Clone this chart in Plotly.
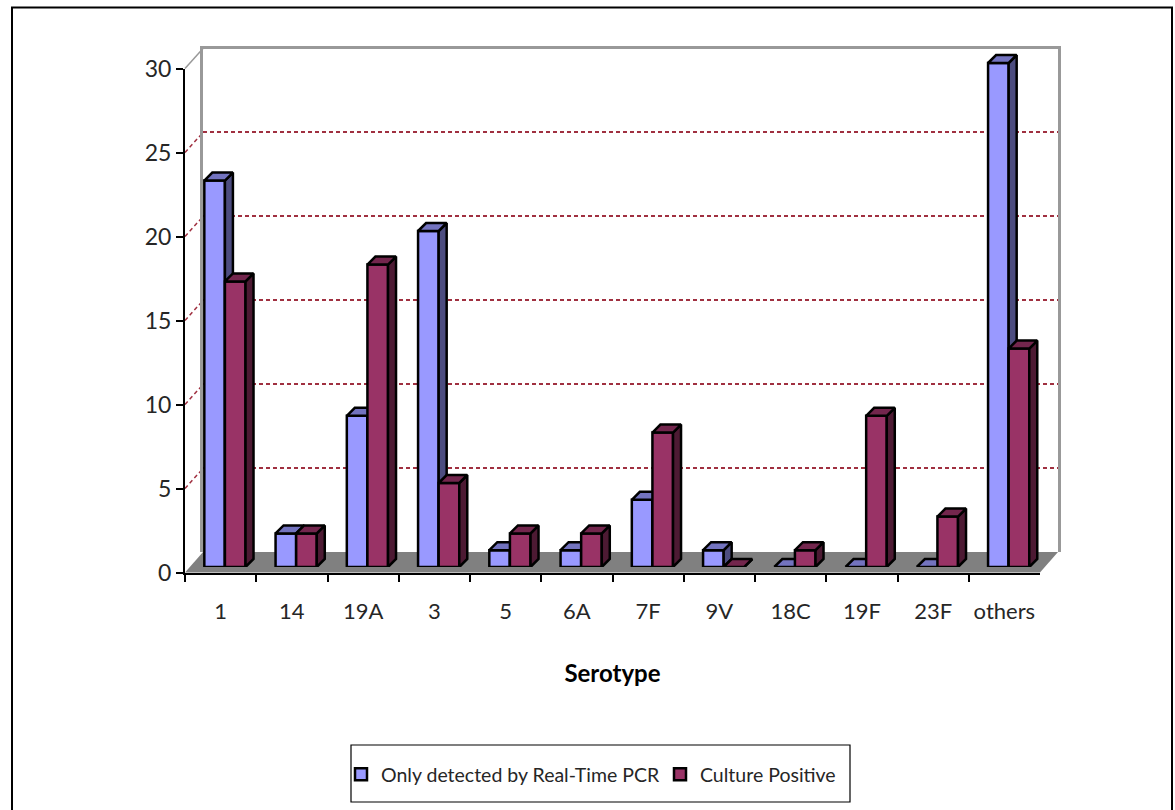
import plotly.graph_objects as go

categories = ["1", "14", "19A", "3", "5", "6A", "7F", "9V", "18C", "19F", "23F", "others"]
pcr_only = [23, 2, 9, 20, 1, 1, 4, 1, 0, 0, 0, 30]
culture_pos = [17, 2, 18, 5, 2, 2, 8, 0, 1, 9, 3, 13]
y_ticks = [0, 5, 10, 15, 20, 25, 30]

W, H = 1175, 810
FONT = "Lato"
TXT = "#262626"
GRID = "#A03040"


def px(x):
    return x / W


def py(y):
    return 1 - y / H


UNIT_X = 855 / 12      # pixels per category
UNIT_Y = 16.8          # pixels per count
BAR_W = 20.6 / UNIT_X  # bar width in category units
DX = 8 / UNIT_X        # depth of the 3D extrusion
DY = 8 / UNIT_Y


def faces(values, offset):
    """Top and side faces of the extruded bars, in axis units."""
    top_x, top_y, side_x, side_y = [], [], [], []
    for i, v in enumerate(values):
        left = i + offset
        right = left + BAR_W
        top_x += [left, left + DX, right + DX, right, left, None]
        top_y += [v, v + DY, v + DY, v, v, None]
        side_x += [right, right + DX, right + DX, right, right, None]
        side_y += [0, DY, v + DY, v, 0, None]
    return top_x, top_y, side_x, side_y


def series(name, values, offset, front, top, side, xa, ya):
    idx = list(range(len(values)))
    tx, ty, sx, sy = faces(values, offset)
    line = dict(color="black", width=2.5)
    return [
        go.Bar(x=idx, y=values, name=name, width=BAR_W, offset=offset,
               marker=dict(color=front, line=line), xaxis=xa, yaxis=ya, hoverinfo="y"),
        go.Scatter(x=sx, y=sy, mode="lines", fill="toself", fillcolor=side, line=line,
                   xaxis=xa, yaxis=ya, showlegend=False, hoverinfo="skip"),
        go.Scatter(x=tx, y=ty, mode="lines", fill="toself", fillcolor=top, line=line,
                   xaxis=xa, yaxis=ya, showlegend=False, hoverinfo="skip"),
    ]


fig = go.Figure()
# back wall subplot (x/y): holds the dashed gridlines
fig.add_trace(go.Scatter(x=categories, y=pcr_only, mode="markers", marker=dict(opacity=0),
                         showlegend=False, hoverinfo="skip", xaxis="x", yaxis="y"))
for t in series("Only detected by Real-Time PCR", pcr_only, -BAR_W, "#9999FF", "#7373BF", "#4D4D80", "x2", "y2"):
    fig.add_trace(t)
for t in series("Culture Positive", culture_pos, 0, "#993366", "#73264D", "#4D1A33", "x3", "y3"):
    fig.add_trace(t)
# front axes subplot (x4/y4): tick marks, labels and title
fig.add_trace(go.Scatter(x=categories, y=pcr_only, mode="markers", marker=dict(opacity=0),
                         showlegend=False, hoverinfo="skip", xaxis="x4", yaxis="y4"))

hidden = dict(visible=False, showgrid=False, zeroline=False)
cat_range = [-0.5, 11.5]

shapes = [
    # outer frame, open at the bottom edge of the picture
    dict(type="path", xref="paper", yref="paper",
         path=f"M {px(12)},{py(812)} L {px(12)},{py(7.5)} L {px(1172)},{py(7.5)} L {px(1172)},{py(812)}",
         line=dict(color="black", width=2), layer="below"),
    # floor
    dict(type="path", xref="paper", yref="paper",
         path=f"M {px(185)},{py(572.5)} L {px(203)},{py(552)} L {px(1058)},{py(552)} L {px(1040)},{py(572.5)} Z",
         fillcolor="#808080", line=dict(width=0), layer="below"),
    # legend box
    dict(type="rect", xref="paper", yref="paper", x0=px(351), x1=px(850), y0=py(802), y1=py(745),
         line=dict(color="black", width=1.2), fillcolor="white", layer="below"),
]
for v in y_ticks[1:]:
    yf = 572.5 - v * 16.8
    last = v == y_ticks[-1]
    shapes.append(dict(type="line", xref="paper", yref="paper",
                       x0=px(185), x1=px(203), y0=py(yf), y1=py(yf - 20),
                       line=dict(color="#999999" if last else GRID,
                                 width=1.5, dash="solid" if last else "4px,3px"),
                       layer="below"))

fig.update_layout(
    width=W, height=H, margin=dict(l=0, r=0, t=0, b=0, autoexpand=False),
    paper_bgcolor="white", plot_bgcolor="rgba(0,0,0,0)",
    barmode="overlay", shapes=shapes,
    xaxis=dict(domain=[px(203), px(1058)], type="category", categoryorder="array",
               categoryarray=categories, range=cat_range, showticklabels=False, ticks="",
               showgrid=False, zeroline=False, showline=True, linecolor="#999999", linewidth=2.5,
               side="top", anchor="y"),
    yaxis=dict(domain=[py(552), py(48.5)], range=[0, 30], tickmode="array", tickvals=y_ticks[1:-1],
               showticklabels=False, ticks="", showgrid=True, gridcolor=GRID, griddash="4px,3px",
               gridwidth=1.5, zeroline=False, showline=True, linecolor="#999999", linewidth=2.5,
               mirror=True, anchor="x"),
    xaxis2=dict(domain=[px(189.3), px(1044.3)], range=cat_range, anchor="y2", **hidden),
    yaxis2=dict(domain=[py(567), py(29.4)], range=[0, 32], anchor="x2", **hidden),
    xaxis3=dict(overlaying="x2", range=cat_range, anchor="y3", **hidden),
    yaxis3=dict(overlaying="y2", range=[0, 32], anchor="x3", **hidden),
    xaxis4=dict(domain=[px(185), px(1040)], type="category", categoryorder="array",
                categoryarray=categories, range=cat_range, tickson="boundaries", ticks="outside",
                ticklen=7, tickwidth=1.5, tickcolor="black", showline=True, linecolor="black",
                linewidth=2, showgrid=False, zeroline=False,
                tickfont=dict(family=FONT, size=22, color=TXT), tickangle=0,
                ticklabelstandoff=18,
                title=dict(text="<b>Serotype</b>", standoff=42,
                           font=dict(family=FONT, size=24, color="black")),
                anchor="y4", automargin=False),
    yaxis4=dict(domain=[py(572.5), py(68.5)], range=[0, 30], tickmode="array", tickvals=y_ticks,
                ticks="outside", ticklen=7, tickwidth=1.5, tickcolor="black", showline=True,
                linecolor="black", linewidth=2, showgrid=False, zeroline=False,
                tickfont=dict(family=FONT, size=23, color=TXT), anchor="x4", automargin=False),
    legend=dict(x=px(341), y=py(774.5), xanchor="left", yanchor="middle", orientation="h",
                borderwidth=0, bgcolor="rgba(0,0,0,0)", entrywidth=274, entrywidthmode="pixels",
                font=dict(family=FONT, size=19.5, color=TXT), itemwidth=30),
)

fig.write_html("out.html", post_script="document.body.style.margin='0';",
               config=dict(displayModeBar=False))
